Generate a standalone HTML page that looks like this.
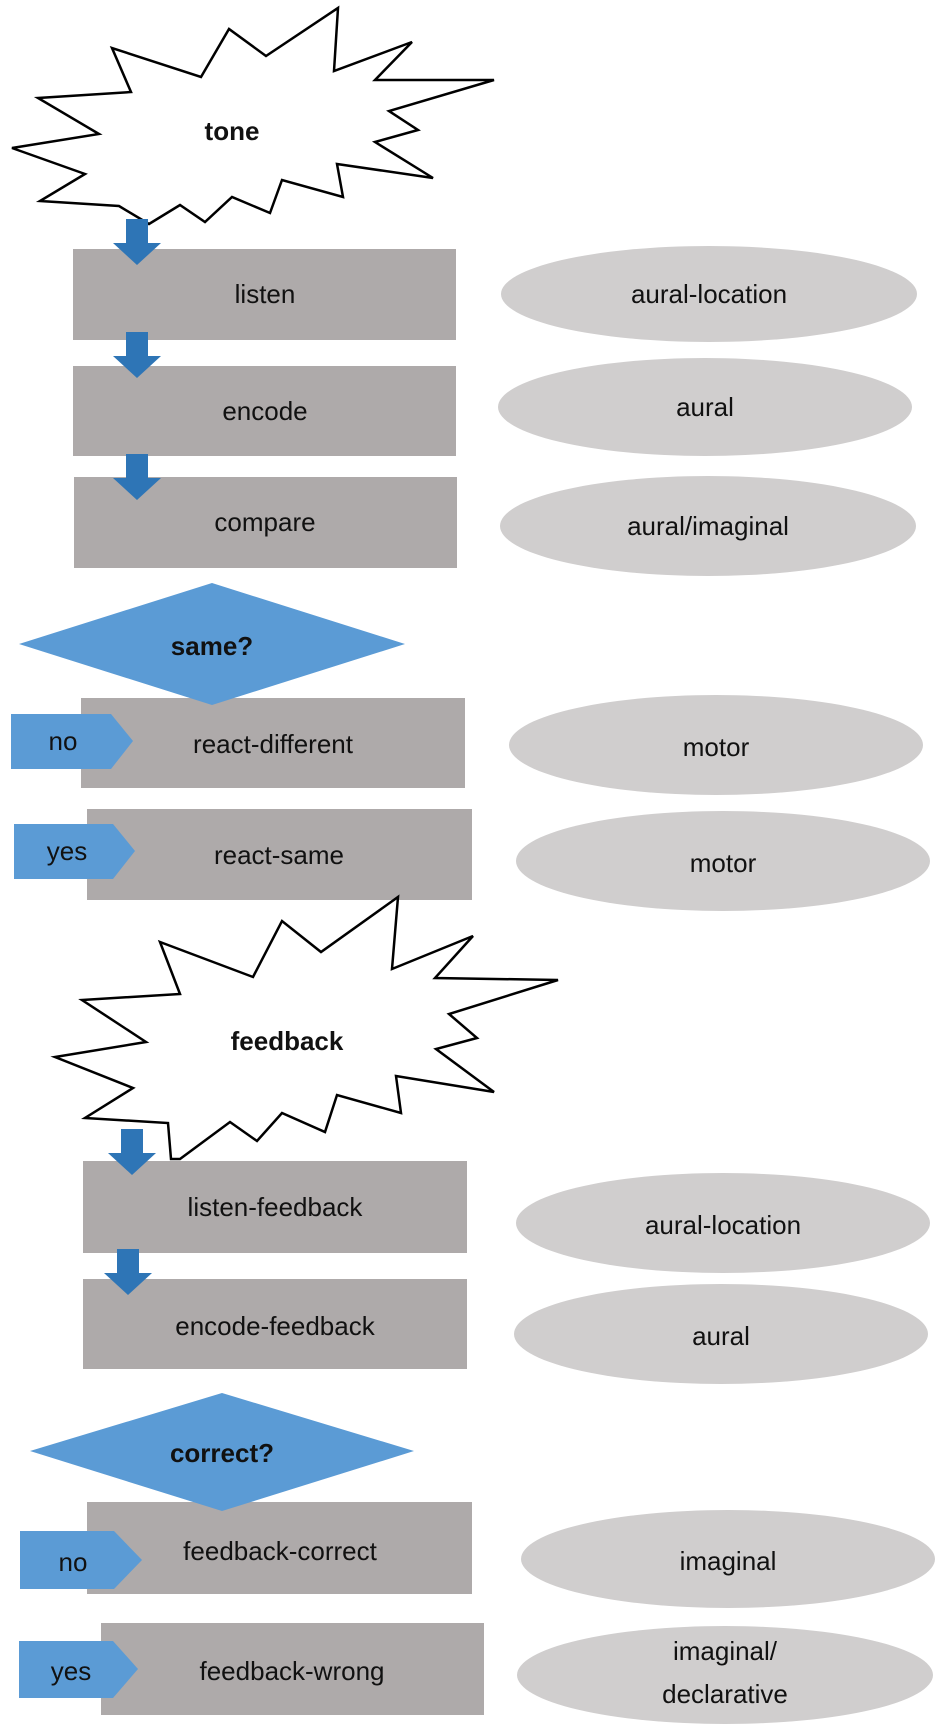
<!DOCTYPE html>
<html><head><meta charset="utf-8"><style>
html,body{margin:0;padding:0;background:#fff;}
svg text{font-family:"Liberation Sans",sans-serif;font-size:26px;fill:#111;text-anchor:middle;dominant-baseline:central;}
.b{font-weight:bold;}
</style></head><body>
<svg width="952" height="1731" viewBox="0 0 952 1731" xmlns="http://www.w3.org/2000/svg">
<defs>
<g id="arr"><rect x="-11" y="0" width="22" height="26" fill="#2e75b6"/><polygon points="-24,24 24,24 0,46" fill="#2e75b6"/></g>
</defs>
<!-- tone star -->
<polygon points="338,8 334,71 412,42 375,80 494,80 389,111 418,130 375,142 433,178 337,164 343,197 282,180 270,213 232,197 205,222 180,205 149,224 119,206 40,201 85,174 12,148 99,134 38,98 131,92 112,48 201,77 229,29 266,56" fill="#fff" stroke="#000" stroke-width="2.5"/>
<text x="232" y="131" class="b">tone</text>

<rect x="73" y="249" width="383" height="91" fill="#aeaaaa"/>
<text x="265" y="294">listen</text>
<use href="#arr" x="137" y="219"/>
<ellipse cx="709" cy="294" rx="208" ry="48" fill="#d0cece"/>
<text x="709" y="294">aural-location</text>

<rect x="73" y="366" width="383" height="90" fill="#aeaaaa"/>
<text x="265" y="411">encode</text>
<use href="#arr" x="137" y="332"/>
<ellipse cx="705" cy="407" rx="207" ry="49" fill="#d0cece"/>
<text x="705" y="407">aural</text>

<rect x="74" y="477" width="383" height="91" fill="#aeaaaa"/>
<text x="265" y="522">compare</text>
<use href="#arr" x="137" y="454"/>
<ellipse cx="708" cy="526" rx="208" ry="50" fill="#d0cece"/>
<text x="708" y="526">aural/imaginal</text>

<rect x="81" y="698" width="384" height="90" fill="#aeaaaa"/>
<polygon points="19,644 212,583 405,644 212,705" fill="#5b9bd5"/>
<text x="212" y="646" class="b">same?</text>
<polygon points="11,714 111,714 133,741 111,769 11,769" fill="#5b9bd5"/>
<text x="63" y="741">no</text>
<text x="273" y="744">react-different</text>
<ellipse cx="716" cy="745" rx="207" ry="50" fill="#d0cece"/>
<text x="716" y="747">motor</text>

<rect x="87" y="809" width="385" height="91" fill="#aeaaaa"/>
<polygon points="14,824 113,824 135,851 113,879 14,879" fill="#5b9bd5"/>
<text x="67" y="851">yes</text>
<text x="279" y="855">react-same</text>
<ellipse cx="723" cy="861" rx="207" ry="50" fill="#d0cece"/>
<text x="723" y="863">motor</text>

<!-- feedback star -->
<polygon points="398,897 392,969 473,936 435,978 558,980 449,1014 477,1038 436,1049 494,1092 396,1076 401,1113 337,1095 325,1132 282,1113 257,1141 230,1122 180,1159 171,1159 168,1123 85,1118 133,1088 55,1057 146,1042 82,1000 180,994 160,942 253,977 282,921 321,952" fill="#fff" stroke="#000" stroke-width="2.5"/>
<text x="287" y="1041" class="b">feedback</text>

<rect x="83" y="1161" width="384" height="92" fill="#aeaaaa"/>
<use href="#arr" x="132" y="1129"/>
<text x="275" y="1207">listen-feedback</text>
<ellipse cx="723" cy="1223" rx="207" ry="50" fill="#d0cece"/>
<text x="723" y="1225">aural-location</text>

<rect x="83" y="1279" width="384" height="90" fill="#aeaaaa"/>
<use href="#arr" x="128" y="1249"/>
<text x="275" y="1326">encode-feedback</text>
<ellipse cx="721" cy="1334" rx="207" ry="50" fill="#d0cece"/>
<text x="721" y="1336">aural</text>

<rect x="87" y="1502" width="385" height="92" fill="#aeaaaa"/>
<polygon points="30,1451 222,1393 414,1451 222,1511" fill="#5b9bd5"/>
<text x="222" y="1453" class="b">correct?</text>
<polygon points="20,1531 114,1531 142,1560 114,1589 20,1589" fill="#5b9bd5"/>
<text x="73" y="1562">no</text>
<text x="280" y="1551">feedback-correct</text>
<ellipse cx="728" cy="1559" rx="207" ry="49" fill="#d0cece"/>
<text x="728" y="1561">imaginal</text>

<rect x="101" y="1623" width="383" height="92" fill="#aeaaaa"/>
<polygon points="19,1641 113,1641 138,1669 113,1698 19,1698" fill="#5b9bd5"/>
<text x="71" y="1671">yes</text>
<text x="292" y="1671">feedback-wrong</text>
<ellipse cx="725" cy="1675" rx="208" ry="49" fill="#d0cece"/>
<text x="725" y="1651">imaginal/</text>
<text x="725" y="1694">declarative</text>
</svg>
</body></html>
